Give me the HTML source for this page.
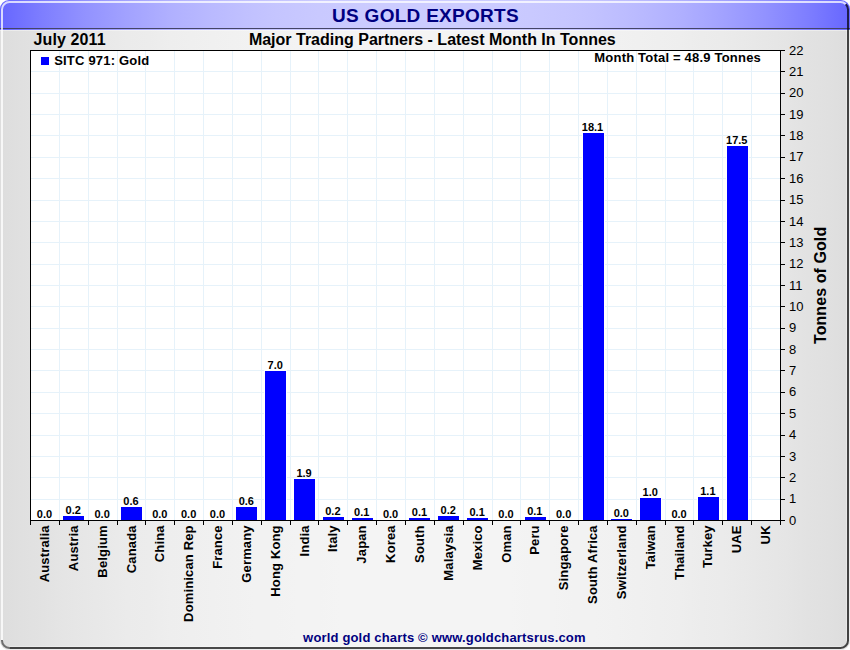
<!DOCTYPE html><html><head><meta charset="utf-8"><style>html,body{margin:0;padding:0;background:#fff;width:850px;height:650px;overflow:hidden}svg{display:block}text{font-family:"Liberation Sans",sans-serif}</style></head><body>
<svg width="850" height="650" viewBox="0 0 850 650">
<defs>
<linearGradient id="hg" x1="0" y1="0" x2="850" y2="0" gradientUnits="userSpaceOnUse"><stop offset="0.0000" stop-color="#6666ff"/><stop offset="0.0250" stop-color="#7272ff"/><stop offset="0.0500" stop-color="#7e7eff"/><stop offset="0.0750" stop-color="#8888ff"/><stop offset="0.1000" stop-color="#9292ff"/><stop offset="0.1250" stop-color="#9a9aff"/><stop offset="0.1500" stop-color="#a2a2ff"/><stop offset="0.1750" stop-color="#a9a9ff"/><stop offset="0.2000" stop-color="#b0b0ff"/><stop offset="0.2250" stop-color="#b5b5ff"/><stop offset="0.2500" stop-color="#babaff"/><stop offset="0.2750" stop-color="#bebeff"/><stop offset="0.3000" stop-color="#c2c2ff"/><stop offset="0.3250" stop-color="#c5c5ff"/><stop offset="0.3500" stop-color="#c7c7ff"/><stop offset="0.3750" stop-color="#c9c9ff"/><stop offset="0.4000" stop-color="#cacaff"/><stop offset="0.4250" stop-color="#cbcbff"/><stop offset="0.4500" stop-color="#ccccff"/><stop offset="0.4750" stop-color="#ccccff"/><stop offset="0.5000" stop-color="#ccccff"/><stop offset="0.5250" stop-color="#ccccff"/><stop offset="0.5500" stop-color="#ccccff"/><stop offset="0.5750" stop-color="#cbcbff"/><stop offset="0.6000" stop-color="#cacaff"/><stop offset="0.6250" stop-color="#c9c9ff"/><stop offset="0.6500" stop-color="#c7c7ff"/><stop offset="0.6750" stop-color="#c5c5ff"/><stop offset="0.7000" stop-color="#c2c2ff"/><stop offset="0.7250" stop-color="#bebeff"/><stop offset="0.7500" stop-color="#babaff"/><stop offset="0.7750" stop-color="#b5b5ff"/><stop offset="0.8000" stop-color="#b0b0ff"/><stop offset="0.8250" stop-color="#a9a9ff"/><stop offset="0.8500" stop-color="#a2a2ff"/><stop offset="0.8750" stop-color="#9a9aff"/><stop offset="0.9000" stop-color="#9292ff"/><stop offset="0.9250" stop-color="#8888ff"/><stop offset="0.9500" stop-color="#7e7eff"/><stop offset="0.9750" stop-color="#7272ff"/><stop offset="1.0000" stop-color="#6666ff"/></linearGradient><linearGradient id="bg" x1="0" y1="0" x2="850" y2="0" gradientUnits="userSpaceOnUse"><stop offset="0.0000" stop-color="#dddddd"/><stop offset="0.0250" stop-color="#e0e0e0"/><stop offset="0.0500" stop-color="#e2e2e2"/><stop offset="0.0750" stop-color="#e5e5e5"/><stop offset="0.1000" stop-color="#e7e7e7"/><stop offset="0.1250" stop-color="#e9e9e9"/><stop offset="0.1500" stop-color="#ebebeb"/><stop offset="0.1750" stop-color="#ececec"/><stop offset="0.2000" stop-color="#eeeeee"/><stop offset="0.2250" stop-color="#efefef"/><stop offset="0.2500" stop-color="#f0f0f0"/><stop offset="0.2750" stop-color="#f1f1f1"/><stop offset="0.3000" stop-color="#f2f2f2"/><stop offset="0.3250" stop-color="#f2f2f2"/><stop offset="0.3500" stop-color="#f3f3f3"/><stop offset="0.3750" stop-color="#f3f3f3"/><stop offset="0.4000" stop-color="#f4f4f4"/><stop offset="0.4250" stop-color="#f4f4f4"/><stop offset="0.4500" stop-color="#f4f4f4"/><stop offset="0.4750" stop-color="#f4f4f4"/><stop offset="0.5000" stop-color="#f4f4f4"/><stop offset="0.5250" stop-color="#f4f4f4"/><stop offset="0.5500" stop-color="#f4f4f4"/><stop offset="0.5750" stop-color="#f4f4f4"/><stop offset="0.6000" stop-color="#f4f4f4"/><stop offset="0.6250" stop-color="#f3f3f3"/><stop offset="0.6500" stop-color="#f3f3f3"/><stop offset="0.6750" stop-color="#f2f2f2"/><stop offset="0.7000" stop-color="#f2f2f2"/><stop offset="0.7250" stop-color="#f1f1f1"/><stop offset="0.7500" stop-color="#f0f0f0"/><stop offset="0.7750" stop-color="#efefef"/><stop offset="0.8000" stop-color="#eeeeee"/><stop offset="0.8250" stop-color="#ececec"/><stop offset="0.8500" stop-color="#ebebeb"/><stop offset="0.8750" stop-color="#e9e9e9"/><stop offset="0.9000" stop-color="#e7e7e7"/><stop offset="0.9250" stop-color="#e5e5e5"/><stop offset="0.9500" stop-color="#e2e2e2"/><stop offset="0.9750" stop-color="#e0e0e0"/><stop offset="1.0000" stop-color="#dddddd"/></linearGradient>
<clipPath id="fr"><rect x="0" y="0" width="850" height="650" rx="9" ry="9"/></clipPath>
<clipPath id="tl"><polygon points="0,0 850,0 830,20 20,20 20,640 0,640"/></clipPath>
<clipPath id="br"><polygon points="850,0 850,650 10,650 10,640 20,640 20,20 830,20"/></clipPath>
<clipPath id="bl"><polygon points="10,650 0,650 0,640 10,640"/></clipPath>
</defs>
<g clip-path="url(#fr)">
<rect x="0" y="0" width="850" height="30" fill="url(#hg)"/>
<rect x="0" y="30" width="850" height="620" fill="url(#bg)"/>
<rect x="0" y="28" width="850" height="1" fill="#444466" shape-rendering="crispEdges"/>
<rect x="0" y="30" width="850" height="1" fill="#ffffff" fill-opacity="0.4" shape-rendering="crispEdges"/>
<rect x="849" y="30" width="1" height="620" fill="#ececec" shape-rendering="crispEdges"/>
<rect x="0" y="649" width="850" height="1" fill="#ececec" shape-rendering="crispEdges"/>
<rect x="846" y="30" width="1" height="617" fill="#ffffff" fill-opacity="0.3" shape-rendering="crispEdges"/>
<rect x="10" y="646" width="836" height="1" fill="#ffffff" fill-opacity="0.3" shape-rendering="crispEdges"/>
</g>
<rect x="2" y="2" width="846" height="646" rx="7.5" ry="7.5" fill="none" stroke="#ffffff" stroke-opacity="0.75" stroke-width="2" clip-path="url(#tl)"/>
<rect x="2" y="2" width="846" height="646" rx="7.5" ry="7.5" fill="none" stroke="#000000" stroke-opacity="0.7" stroke-width="2" clip-path="url(#br)"/>
<rect x="2" y="2" width="846" height="646" rx="7.5" ry="7.5" fill="none" stroke="#000000" stroke-opacity="0.5" stroke-width="2" clip-path="url(#bl)"/>
<rect x="30" y="50" width="750" height="470" fill="#ffffff" shape-rendering="crispEdges"/>
<path d="M59.5 51V520M88.5 51V520M117.5 51V520M145.5 51V520M174.5 51V520M203.5 51V520M232.5 51V520M261.5 51V520M290.5 51V520M318.5 51V520M347.5 51V520M376.5 51V520M405.5 51V520M434.5 51V520M463.5 51V520M492.5 51V520M520.5 51V520M549.5 51V520M578.5 51V520M607.5 51V520M636.5 51V520M665.5 51V520M693.5 51V520M722.5 51V520M751.5 51V520M31 499.5H780M31 477.5H780M31 456.5H780M31 435.5H780M31 413.5H780M31 392.5H780M31 370.5H780M31 349.5H780M31 328.5H780M31 306.5H780M31 285.5H780M31 264.5H780M31 242.5H780M31 221.5H780M31 200.5H780M31 178.5H780M31 157.5H780M31 135.5H780M31 114.5H780M31 93.5H780M31 71.5H780" stroke="#e6f2fa" stroke-width="1" fill="none" shape-rendering="crispEdges"/>
<rect x="62" y="515" width="23" height="5" fill="#ffffff" shape-rendering="crispEdges"/>
<rect x="63" y="516" width="21" height="4" fill="#0000ff" shape-rendering="crispEdges"/>
<rect x="120" y="506" width="23" height="14" fill="#ffffff" shape-rendering="crispEdges"/>
<rect x="121" y="507" width="21" height="13" fill="#0000ff" shape-rendering="crispEdges"/>
<rect x="235" y="506" width="23" height="14" fill="#ffffff" shape-rendering="crispEdges"/>
<rect x="236" y="507" width="21" height="13" fill="#0000ff" shape-rendering="crispEdges"/>
<rect x="264" y="370" width="23" height="150" fill="#ffffff" shape-rendering="crispEdges"/>
<rect x="265" y="371" width="21" height="149" fill="#0000ff" shape-rendering="crispEdges"/>
<rect x="293" y="478" width="23" height="42" fill="#ffffff" shape-rendering="crispEdges"/>
<rect x="294" y="479" width="21" height="41" fill="#0000ff" shape-rendering="crispEdges"/>
<rect x="322" y="516" width="23" height="4" fill="#ffffff" shape-rendering="crispEdges"/>
<rect x="323" y="517" width="21" height="3" fill="#0000ff" shape-rendering="crispEdges"/>
<rect x="351" y="517" width="23" height="3" fill="#ffffff" shape-rendering="crispEdges"/>
<rect x="352" y="518" width="21" height="2" fill="#0000ff" shape-rendering="crispEdges"/>
<rect x="408" y="517" width="23" height="3" fill="#ffffff" shape-rendering="crispEdges"/>
<rect x="409" y="518" width="21" height="2" fill="#0000ff" shape-rendering="crispEdges"/>
<rect x="437" y="515" width="23" height="5" fill="#ffffff" shape-rendering="crispEdges"/>
<rect x="438" y="516" width="21" height="4" fill="#0000ff" shape-rendering="crispEdges"/>
<rect x="466" y="517" width="23" height="3" fill="#ffffff" shape-rendering="crispEdges"/>
<rect x="467" y="518" width="21" height="2" fill="#0000ff" shape-rendering="crispEdges"/>
<rect x="524" y="516" width="23" height="4" fill="#ffffff" shape-rendering="crispEdges"/>
<rect x="525" y="517" width="21" height="3" fill="#0000ff" shape-rendering="crispEdges"/>
<rect x="582" y="132" width="23" height="388" fill="#ffffff" shape-rendering="crispEdges"/>
<rect x="583" y="133" width="21" height="387" fill="#0000ff" shape-rendering="crispEdges"/>
<rect x="610" y="518" width="23" height="2" fill="#ffffff" shape-rendering="crispEdges"/>
<rect x="611" y="519" width="21" height="1" fill="#0000ff" shape-rendering="crispEdges"/>
<rect x="639" y="497" width="23" height="23" fill="#ffffff" shape-rendering="crispEdges"/>
<rect x="640" y="498" width="21" height="22" fill="#0000ff" shape-rendering="crispEdges"/>
<rect x="697" y="496" width="23" height="24" fill="#ffffff" shape-rendering="crispEdges"/>
<rect x="698" y="497" width="21" height="23" fill="#0000ff" shape-rendering="crispEdges"/>
<rect x="726" y="145" width="23" height="375" fill="#ffffff" shape-rendering="crispEdges"/>
<rect x="727" y="146" width="21" height="374" fill="#0000ff" shape-rendering="crispEdges"/>
<rect x="30.5" y="50.5" width="750" height="470" fill="none" stroke="#000" stroke-width="1" shape-rendering="crispEdges"/>
<path d="M30.5 521V525M59.5 521V525M88.5 521V525M117.5 521V525M145.5 521V525M174.5 521V525M203.5 521V525M232.5 521V525M261.5 521V525M290.5 521V525M318.5 521V525M347.5 521V525M376.5 521V525M405.5 521V525M434.5 521V525M463.5 521V525M492.5 521V525M520.5 521V525M549.5 521V525M578.5 521V525M607.5 521V525M636.5 521V525M665.5 521V525M693.5 521V525M722.5 521V525M751.5 521V525M780.5 521V525M781 520.5H785M781 499.5H785M781 477.5H785M781 456.5H785M781 435.5H785M781 413.5H785M781 392.5H785M781 370.5H785M781 349.5H785M781 328.5H785M781 306.5H785M781 285.5H785M781 264.5H785M781 242.5H785M781 221.5H785M781 200.5H785M781 178.5H785M781 157.5H785M781 135.5H785M781 114.5H785M781 93.5H785M781 71.5H785M781 50.5H785" stroke="#000" stroke-width="1" fill="none" shape-rendering="crispEdges"/>
<text x="789" y="524.6" font-size="13" fill="#000">0</text>
<text x="789" y="503.2" font-size="13" fill="#000">1</text>
<text x="789" y="481.9" font-size="13" fill="#000">2</text>
<text x="789" y="460.5" font-size="13" fill="#000">3</text>
<text x="789" y="439.1" font-size="13" fill="#000">4</text>
<text x="789" y="417.8" font-size="13" fill="#000">5</text>
<text x="789" y="396.4" font-size="13" fill="#000">6</text>
<text x="789" y="375.1" font-size="13" fill="#000">7</text>
<text x="789" y="353.7" font-size="13" fill="#000">8</text>
<text x="789" y="332.3" font-size="13" fill="#000">9</text>
<text x="789" y="311.0" font-size="13" fill="#000">10</text>
<text x="789" y="289.6" font-size="13" fill="#000">11</text>
<text x="789" y="268.2" font-size="13" fill="#000">12</text>
<text x="789" y="246.9" font-size="13" fill="#000">13</text>
<text x="789" y="225.5" font-size="13" fill="#000">14</text>
<text x="789" y="204.1" font-size="13" fill="#000">15</text>
<text x="789" y="182.8" font-size="13" fill="#000">16</text>
<text x="789" y="161.4" font-size="13" fill="#000">17</text>
<text x="789" y="140.1" font-size="13" fill="#000">18</text>
<text x="789" y="118.7" font-size="13" fill="#000">19</text>
<text x="789" y="97.3" font-size="13" fill="#000">20</text>
<text x="789" y="76.0" font-size="13" fill="#000">21</text>
<text x="789" y="54.6" font-size="13" fill="#000">22</text>
<text x="44.42" y="518" font-size="11" font-weight="bold" text-anchor="middle" fill="#000">0.0</text>
<text x="73.27" y="514" font-size="11" font-weight="bold" text-anchor="middle" fill="#000">0.2</text>
<text x="102.12" y="518" font-size="11" font-weight="bold" text-anchor="middle" fill="#000">0.0</text>
<text x="130.96" y="505" font-size="11" font-weight="bold" text-anchor="middle" fill="#000">0.6</text>
<text x="159.81" y="518" font-size="11" font-weight="bold" text-anchor="middle" fill="#000">0.0</text>
<text x="188.65" y="518" font-size="11" font-weight="bold" text-anchor="middle" fill="#000">0.0</text>
<text x="217.50" y="518" font-size="11" font-weight="bold" text-anchor="middle" fill="#000">0.0</text>
<text x="246.35" y="505" font-size="11" font-weight="bold" text-anchor="middle" fill="#000">0.6</text>
<text x="275.19" y="369" font-size="11" font-weight="bold" text-anchor="middle" fill="#000">7.0</text>
<text x="304.04" y="477" font-size="11" font-weight="bold" text-anchor="middle" fill="#000">1.9</text>
<text x="332.88" y="515" font-size="11" font-weight="bold" text-anchor="middle" fill="#000">0.2</text>
<text x="361.73" y="516" font-size="11" font-weight="bold" text-anchor="middle" fill="#000">0.1</text>
<text x="390.58" y="518" font-size="11" font-weight="bold" text-anchor="middle" fill="#000">0.0</text>
<text x="419.42" y="516" font-size="11" font-weight="bold" text-anchor="middle" fill="#000">0.1</text>
<text x="448.27" y="514" font-size="11" font-weight="bold" text-anchor="middle" fill="#000">0.2</text>
<text x="477.12" y="516" font-size="11" font-weight="bold" text-anchor="middle" fill="#000">0.1</text>
<text x="505.96" y="518" font-size="11" font-weight="bold" text-anchor="middle" fill="#000">0.0</text>
<text x="534.81" y="515" font-size="11" font-weight="bold" text-anchor="middle" fill="#000">0.1</text>
<text x="563.65" y="518" font-size="11" font-weight="bold" text-anchor="middle" fill="#000">0.0</text>
<text x="592.50" y="131" font-size="11" font-weight="bold" text-anchor="middle" fill="#000">18.1</text>
<text x="621.35" y="517" font-size="11" font-weight="bold" text-anchor="middle" fill="#000">0.0</text>
<text x="650.19" y="496" font-size="11" font-weight="bold" text-anchor="middle" fill="#000">1.0</text>
<text x="679.04" y="518" font-size="11" font-weight="bold" text-anchor="middle" fill="#000">0.0</text>
<text x="707.88" y="495" font-size="11" font-weight="bold" text-anchor="middle" fill="#000">1.1</text>
<text x="736.73" y="144" font-size="11" font-weight="bold" text-anchor="middle" fill="#000">17.5</text>
<text transform="translate(49.02,525.3) rotate(-90)" font-size="13" font-weight="bold" letter-spacing="0.15" text-anchor="end" fill="#000">Australia</text>
<text transform="translate(77.87,525.3) rotate(-90)" font-size="13" font-weight="bold" letter-spacing="0.15" text-anchor="end" fill="#000">Austria</text>
<text transform="translate(106.72,525.3) rotate(-90)" font-size="13" font-weight="bold" letter-spacing="0.15" text-anchor="end" fill="#000">Belgium</text>
<text transform="translate(135.56,525.3) rotate(-90)" font-size="13" font-weight="bold" letter-spacing="0.15" text-anchor="end" fill="#000">Canada</text>
<text transform="translate(164.41,525.3) rotate(-90)" font-size="13" font-weight="bold" letter-spacing="0.15" text-anchor="end" fill="#000">China</text>
<text transform="translate(193.25,525.3) rotate(-90)" font-size="13" font-weight="bold" letter-spacing="0.15" text-anchor="end" fill="#000">Dominican Rep</text>
<text transform="translate(222.10,525.3) rotate(-90)" font-size="13" font-weight="bold" letter-spacing="0.15" text-anchor="end" fill="#000">France</text>
<text transform="translate(250.95,525.3) rotate(-90)" font-size="13" font-weight="bold" letter-spacing="0.15" text-anchor="end" fill="#000">Germany</text>
<text transform="translate(279.79,525.3) rotate(-90)" font-size="13" font-weight="bold" letter-spacing="0.15" text-anchor="end" fill="#000">Hong Kong</text>
<text transform="translate(308.64,525.3) rotate(-90)" font-size="13" font-weight="bold" letter-spacing="0.15" text-anchor="end" fill="#000">India</text>
<text transform="translate(337.48,525.3) rotate(-90)" font-size="13" font-weight="bold" letter-spacing="0.15" text-anchor="end" fill="#000">Italy</text>
<text transform="translate(366.33,525.3) rotate(-90)" font-size="13" font-weight="bold" letter-spacing="0.15" text-anchor="end" fill="#000">Japan</text>
<text transform="translate(395.18,525.3) rotate(-90)" font-size="13" font-weight="bold" letter-spacing="0.15" text-anchor="end" fill="#000">Korea</text>
<text transform="translate(424.02,525.3) rotate(-90)" font-size="13" font-weight="bold" letter-spacing="0.15" text-anchor="end" fill="#000">South</text>
<text transform="translate(452.87,525.3) rotate(-90)" font-size="13" font-weight="bold" letter-spacing="0.15" text-anchor="end" fill="#000">Malaysia</text>
<text transform="translate(481.72,525.3) rotate(-90)" font-size="13" font-weight="bold" letter-spacing="0.15" text-anchor="end" fill="#000">Mexico</text>
<text transform="translate(510.56,525.3) rotate(-90)" font-size="13" font-weight="bold" letter-spacing="0.15" text-anchor="end" fill="#000">Oman</text>
<text transform="translate(539.41,525.3) rotate(-90)" font-size="13" font-weight="bold" letter-spacing="0.15" text-anchor="end" fill="#000">Peru</text>
<text transform="translate(568.25,525.3) rotate(-90)" font-size="13" font-weight="bold" letter-spacing="0.15" text-anchor="end" fill="#000">Singapore</text>
<text transform="translate(597.10,525.3) rotate(-90)" font-size="13" font-weight="bold" letter-spacing="0.15" text-anchor="end" fill="#000">South Africa</text>
<text transform="translate(625.95,525.3) rotate(-90)" font-size="13" font-weight="bold" letter-spacing="0.15" text-anchor="end" fill="#000">Switzerland</text>
<text transform="translate(654.79,525.3) rotate(-90)" font-size="13" font-weight="bold" letter-spacing="0.15" text-anchor="end" fill="#000">Taiwan</text>
<text transform="translate(683.64,525.3) rotate(-90)" font-size="13" font-weight="bold" letter-spacing="0.15" text-anchor="end" fill="#000">Thailand</text>
<text transform="translate(712.48,525.3) rotate(-90)" font-size="13" font-weight="bold" letter-spacing="0.15" text-anchor="end" fill="#000">Turkey</text>
<text transform="translate(741.33,525.3) rotate(-90)" font-size="13" font-weight="bold" letter-spacing="0.15" text-anchor="end" fill="#000">UAE</text>
<text transform="translate(770.18,525.3) rotate(-90)" font-size="13" font-weight="bold" letter-spacing="0.15" text-anchor="end" fill="#000">UK</text>
<text x="425.5" y="22" font-size="19" font-weight="bold" letter-spacing="0.28" text-anchor="middle" fill="#000080">US GOLD EXPORTS</text>
<text x="33.5" y="45" font-size="16" font-weight="bold" letter-spacing="0.12" fill="#000">July 2011</text>
<text x="432.3" y="45" font-size="16" font-weight="bold" text-anchor="middle" fill="#000">Major Trading Partners - Latest Month In Tonnes</text>
<rect x="41" y="57" width="8" height="8" fill="#0000ff" shape-rendering="crispEdges"/>
<text x="54.2" y="65.3" font-size="13" font-weight="bold" letter-spacing="0.2" fill="#000">SITC 971: Gold</text>
<text x="761" y="62.4" font-size="13" font-weight="bold" letter-spacing="0.2" text-anchor="end" fill="#000">Month Total = 48.9 Tonnes</text>
<text transform="translate(826,344) rotate(-90)" font-size="16" font-weight="bold" letter-spacing="0.08" fill="#000">Tonnes of Gold</text>
<text x="444.4" y="642.3" font-size="13" font-weight="bold" letter-spacing="0.17" text-anchor="middle" fill="#000080">world gold charts © www.goldchartsrus.com</text>
</svg></body></html>
